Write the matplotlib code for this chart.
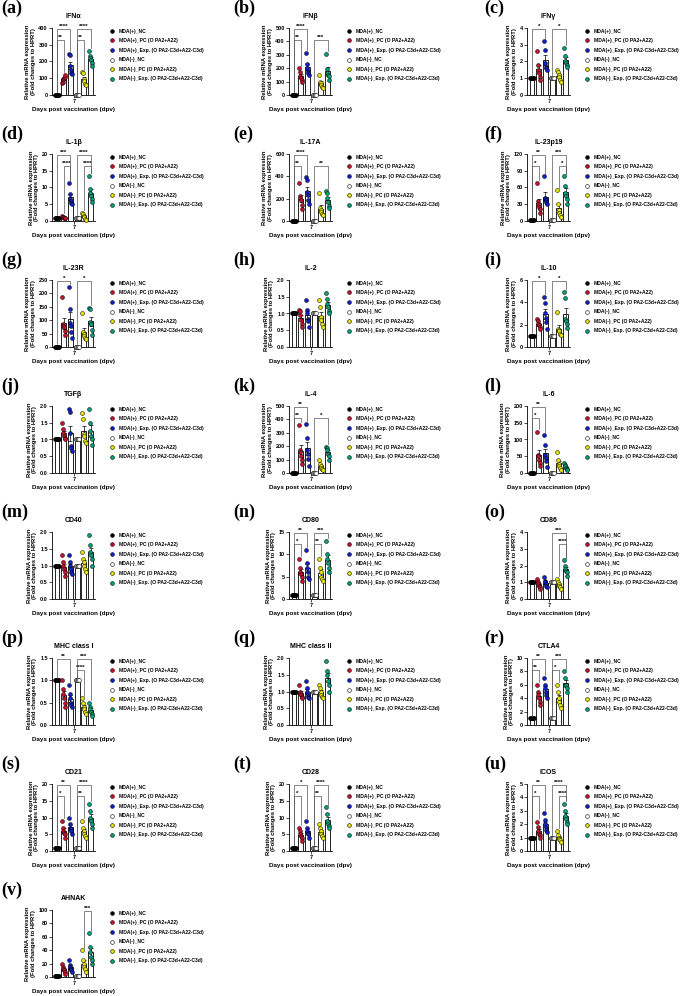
import matplotlib
matplotlib.use("Agg")
import matplotlib.pyplot as plt
from matplotlib.lines import Line2D
import numpy as np

plt.rcParams["font.family"] = ["Liberation Sans", "DejaVu Sans"]

W, H = 680, 996

GROUPS = [
    "MDA(+)_NC",
    "MDA(+)_PC (O PA2+A22)",
    "MDA(+)_Exp. (O PA2-C3d+A22-C3d)",
    "MDA(-)_NC",
    "MDA(-)_PC (O PA2+A22)",
    "MDA(-)_Exp. (O PA2-C3d+A22-C3d)",
]
GROUP_COLORS = ["#000000", "#c8102e", "#1020c8", "#ffffff", "#e6e600", "#00a07a"]

PANEL_LABELS = list("abcdefghijklmnopqrstuv")
GENES = ["IFNα", "IFNβ", "IFNγ", "IL-1β", "IL-17A", "IL-23p19", "IL-23R", "IL-2",
         "IL-10", "TGFβ", "IL-4", "IL-6", "CD40", "CD80", "CD86", "MHC class I",
         "MHC class II", "CTLA4", "CD21", "CD28", "ICOS", "AHNAK"]
Y_TOP = [400, 500, 4, 20, 600, 120, 250, 2.0, 6, 2.0, 500, 200, 2.0, 15, 4,
         1.5, 2.0, 10, 20, 20, 5, 100]
Y_STEP = [100, 100, 1, 5, 200, 30, 50, 0.5, 2, 0.5, 100, 50, 0.5, 5, 1,
          0.5, 0.5, 2, 5, 5, 1, 20]

ONES = [1, 1, 1, 1, 1, 1]

# individual points per group: NC+, PC+, Exp+, NC-, PC-, Exp-
IFNA = [ONES, [70, 80, 95, 100, 110, 120], [245, 240, 175, 150, 130, 125],
        ONES, [135, 130, 95, 85, 65, 60], [265, 230, 220, 210, 190, 175]]
IFNB = [ONES, [200, 170, 140, 125, 110, 100], [315, 235, 200, 180, 165, 150],
        ONES, [150, 100, 90, 75, 60, 50], [305, 195, 165, 150, 140, 115]]
IFNG = [ONES, [2.6, 1.8, 1.5, 1.3, 1.1, 0.9], [3.2, 2.7, 1.9, 1.7, 1.6, 1.5],
        ONES, [1.5, 1.4, 1.2, 1.1, 0.9, 0.8], [2.8, 2.3, 2.0, 1.9, 1.8, 1.7]]
IL1B = [ONES, [1.5, 1.3, 1.2, 1.0, 0.9, 0.8], [11.2, 8.2, 6.5, 6.0, 5.5, 5.0],
        ONES, [2.5, 2.2, 1.6, 1.2, 0.7, 0.4], [13.4, 9.6, 8.4, 7.5, 6.5, 5.6]]
IL17A = [ONES, [340, 220, 205, 185, 140, 110], [390, 370, 260, 230, 190, 150],
         ONES, [250, 120, 95, 80, 65, 50], [265, 250, 205, 170, 130, 115]]
IL23P19 = [ONES, [68, 35, 30, 25, 22, 15], [80, 42, 40, 37, 34, 30],
           ONES, [55, 30, 20, 14, 10, 8], [80, 63, 50, 45, 40, 30]]
IL23R = [ONES, [185, 85, 80, 75, 60, 45], [225, 140, 90, 80, 55, 35],
         ONES, [128, 55, 50, 40, 35, 30], [145, 140, 95, 85, 65, 45]]
IL2 = [ONES, [1.1, 1.08, 0.95, 0.8, 0.7, 0.6], [1.4, 1.1, 1.0, 0.85, 0.78, 0.6],
       ONES, [1.4, 1.2, 0.9, 0.8, 0.7, 0.6], [1.6, 1.42, 1.28, 1.18, 1.08, 1.0]]
IL10 = [ONES, [2.5, 2.3, 2.1, 2.0, 1.8, 1.6], [4.5, 3.9, 3.0, 2.6, 2.2, 1.6],
        ONES, [3.1, 1.6, 1.5, 1.4, 1.2, 1.1], [4.9, 4.4, 2.5, 2.3, 2.1, 1.7]]
TGFB = [ONES, [1.5, 1.3, 1.2, 1.1, 1.05, 1.0], [1.9, 1.82, 1.2, 0.8, 0.75, 0.65],
        ONES, [1.8, 1.6, 1.15, 1.1, 0.95, 0.9], [1.9, 1.5, 1.25, 1.1, 1.0, 0.85]]
IL4 = [ONES, [360, 170, 155, 130, 95, 70], [365, 260, 170, 145, 105, 55],
       ONES, [95, 65, 55, 40, 30, 20], [195, 185, 170, 145, 130, 100]]
IL6 = [ONES, [123, 55, 50, 40, 30, 22], [112, 85, 55, 45, 35, 18],
       ONES, [64, 38, 28, 20, 14, 10], [30, 25, 21, 16, 12, 8]]
CD40 = [ONES, [1.3, 1.1, 1.0, 0.9, 0.8, 0.7], [1.3, 1.1, 1.0, 0.9, 0.8, 0.75],
        ONES, [1.4, 1.2, 1.1, 1.0, 0.9, 0.8], [1.9, 1.6, 1.4, 1.3, 1.2, 1.0]]
CD80 = [ONES, [9, 7, 6, 5.5, 5, 4], [11, 8, 7, 6, 5, 4.5],
        ONES, [9, 7, 6, 5, 4.5, 4], [13, 10, 9, 8, 7, 6]]
CD86 = [ONES, [1.2, 1.0, 0.9, 0.8, 0.7, 0.6], [1.3, 1.1, 1.0, 0.9, 0.8, 0.7],
        ONES, [1.2, 1.0, 0.9, 0.8, 0.7, 0.6], [2.3, 2.0, 1.8, 1.7, 1.6, 1.4]]
MHC1 = [ONES, [1.0, 0.8, 0.7, 0.6, 0.5, 0.4], [0.9, 0.7, 0.6, 0.5, 0.45, 0.4],
        ONES, [0.6, 0.5, 0.4, 0.35, 0.3, 0.25], [0.5, 0.4, 0.35, 0.3, 0.25, 0.2]]
MHC2 = [ONES, [1.2, 1.0, 0.95, 0.9, 0.85, 0.8], [1.3, 1.1, 1.0, 0.9, 0.85, 0.8],
        ONES, [1.2, 1.1, 1.0, 0.9, 0.85, 0.8], [1.9, 1.6, 1.5, 1.3, 1.2, 1.0]]
CTLA4 = [ONES, [6, 5, 4.5, 4, 3.5, 3], [7, 6, 5.5, 5, 4.5, 4],
         ONES, [6, 5, 4, 3.5, 3, 2.5], [8, 7, 6, 6, 5.5, 5]]
CD21 = [ONES, [9, 7, 6, 5.5, 5, 4], [10, 8, 7, 6.5, 6, 5],
        ONES, [9, 7, 6, 5, 4.5, 4], [14, 12, 10, 9, 8, 7]]
CD28 = [ONES, [7, 6, 5, 4.5, 4, 3], [9, 7, 6, 5.5, 5, 4],
        ONES, [8, 7, 6, 5, 4.5, 4], [13, 11, 9, 8, 7.5, 7]]
ICOS = [ONES, [2.2, 1.8, 1.5, 1.3, 1.2, 1.0], [2.8, 2.3, 2.0, 1.8, 1.6, 1.4],
        ONES, [1.5, 1.2, 1.0, 0.9, 0.8, 0.7], [3.5, 3.0, 2.6, 2.4, 2.2, 2.0]]
AHNAK = [ONES, [20, 15, 12, 10, 8, 5], [25, 18, 15, 12, 10, 7],
         ONES, [40, 25, 20, 15, 12, 8], [65, 45, 38, 30, 25, 20]]

POINTS = [IFNA, IFNB, IFNG, IL1B, IL17A, IL23P19, IL23R, IL2, IL10, TGFB, IL4,
          IL6, CD40, CD80, CD86, MHC1, MHC2, CTLA4, CD21, CD28, ICOS, AHNAK]

# significance: (group i, group j, label, tier)
SIGS = [
    [(0, 1, "**", 0), (0, 2, "****", 1), (3, 4, "**", 0), (3, 5, "****", 1)],
    [(0, 1, "**", 0), (0, 2, "****", 1), (3, 5, "***", 0)],
    [(0, 2, "*", 1), (3, 5, "*", 1)],
    [(0, 2, "***", 1), (1, 2, "****", 0), (3, 5, "****", 1), (4, 5, "****", 0)],
    [(0, 1, "**", 0), (0, 2, "****", 1), (3, 5, "**", 0)],
    [(0, 1, "*", 0), (0, 2, "**", 1), (3, 5, "***", 1), (4, 5, "*", 0)],
    [(0, 2, "*", 1), (3, 5, "*", 1)],
    [],
    [(0, 2, "*", 1), (3, 5, "*", 1)],
    [],
    [(0, 1, "**", 0), (0, 2, "**", 1), (3, 5, "*", 0)],
    [(0, 1, "*", 0), (0, 2, "**", 1)],
    [],
    [(0, 1, "*", 0), (0, 2, "**", 1), (3, 4, "**", 0), (3, 5, "***", 1)],
    [(3, 5, "***", 1), (4, 5, "****", 0)],
    [(0, 2, "**", 1), (3, 4, "****", 0), (3, 5, "***", 1)],
    [],
    [(0, 1, "**", 0), (0, 2, "**", 1), (3, 4, "*", 0), (3, 5, "***", 1)],
    [(0, 1, "*", 0), (0, 2, "**", 1), (3, 4, "**", 0), (3, 5, "****", 1)],
    [(0, 1, "*", 0), (0, 2, "*", 1), (3, 4, "**", 0), (3, 5, "****", 1)],
    [(0, 1, "*", 0), (0, 2, "**", 1), (3, 5, "****", 1), (4, 5, "****", 0)],
    [(4, 5, "***", 1)],
]

COL_AX_LEFT = [52, 289, 527]
COL_LABEL_X = [1, 233, 484]
ROW_PITCH = 126
AX_W, AX_H = 43, 67

fig = plt.figure(figsize=(W / 100, H / 100), dpi=100)

for k, gene in enumerate(GENES):
    row, col = divmod(k, 3)
    ly = 8 + row * ROW_PITCH
    left = COL_AX_LEFT[col]
    top = ly + 20
    ax = fig.add_axes([left / W, 1 - (top + AX_H) / H, AX_W / W, AX_H / H])

    fig.text(COL_LABEL_X[col] / W, 1 - ly / H, f"({PANEL_LABELS[k]})",
             family=["Liberation Serif", "DejaVu Serif"], weight="bold",
             fontsize=13, ha="left", va="center")

    pts = POINTS[k]
    ytop = Y_TOP[k]
    x = np.arange(6)
    means = np.array([np.mean(p) for p in pts])
    sems = np.array([np.std(p, ddof=1) / np.sqrt(len(p)) for p in pts])

    ax.bar(x, means, width=0.72, color="white", edgecolor="black",
           linewidth=0.6, zorder=1)
    ax.errorbar(x, means, yerr=sems, fmt="none", ecolor="black",
                elinewidth=0.5, capsize=1.2, capthick=0.5, zorder=2)
    for g, p in enumerate(pts):
        offs = np.linspace(-0.24, 0.24, len(p))
        ax.scatter(x[g] + offs, p, s=8, c=GROUP_COLORS[g], edgecolors="black",
                   linewidths=0.35, zorder=3, clip_on=False)

    # significance brackets
    for i, j, lab, tier in SIGS[k]:
        yb = ytop * (0.82 + 0.16 * tier)
        legs = []
        for g in (i, j):
            lo = max(max(pts[g]), means[g] + sems[g]) + 0.04 * ytop
            legs.append(min(lo, yb - 0.03 * ytop))
        ax.plot([x[i], x[i], x[j], x[j]], [legs[0], yb, yb, legs[1]],
                color="#555555", lw=0.5, clip_on=False, zorder=4)
        ax.text((x[i] + x[j]) / 2, yb + 0.005 * ytop, lab, ha="center",
                va="bottom", fontsize=4.5, weight="bold")

    ax.set_xlim(-0.75, 5.65)
    ax.set_ylim(0, ytop)
    ticks = np.arange(0, ytop + Y_STEP[k] / 2, Y_STEP[k])
    ax.set_yticks(ticks)
    fmt = "{:.1f}" if Y_STEP[k] < 1 else "{:.0f}"
    ax.set_yticklabels([fmt.format(t) for t in ticks], fontsize=4, weight="bold")
    ax.set_xticks([2.5])
    ax.set_xticklabels(["7"], fontsize=4, weight="bold")
    ax.tick_params(length=2, width=0.5, pad=1)
    for s in ("top", "right"):
        ax.spines[s].set_visible(False)
    for s in ("left", "bottom"):
        ax.spines[s].set_linewidth(0.6)

    ax.set_title(gene, fontsize=5, weight="bold", pad=7)
    ax.set_ylabel("Relative mRNA expression\n(Fold changes to HPRT)",
                  fontsize=4.2, weight="bold", labelpad=2, linespacing=1.1)
    ax.set_xlabel("Days post vaccination (dpv)", fontsize=4.5, weight="bold",
                  labelpad=2)

    handles = [Line2D([], [], ls="", marker="o", markersize=2.7,
                      markerfacecolor=c, markeredgecolor="black",
                      markeredgewidth=0.4) for c in GROUP_COLORS]
    ax.legend(handles, GROUPS, loc="upper left", bbox_to_anchor=(1.37, 0.99),
              frameon=False, handlelength=0.6, handletextpad=0.9,
              labelspacing=0.9, borderpad=0, borderaxespad=0,
              prop={"weight": "bold", "size": 3.65})

fig.savefig("out.png", dpi=100)
